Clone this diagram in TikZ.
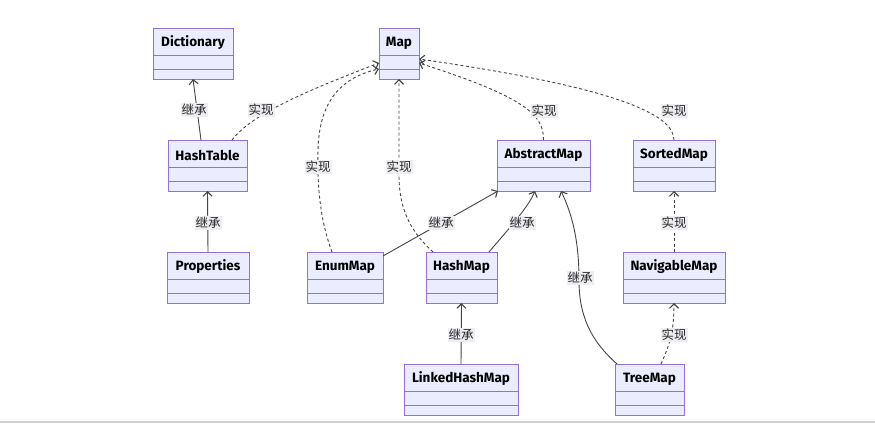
\documentclass[tikz,border=0pt]{standalone}
\usepackage{fontspec}
\setmainfont{Fira Sans}
\newfontfamily\cjk{Noto Sans CJK SC}
\usetikzlibrary{arrows.meta,calc,fit}
\definecolor{boxfill}{HTML}{ECECFF}
\definecolor{boxline}{HTML}{9370DB}
\definecolor{edgecol}{HTML}{444444}
\definecolor{lblfill}{HTML}{EEEEF2}
\tikzset{
  umlbox/.style={draw=boxline, fill=boxfill, line width=0.9pt, inner sep=0pt, outer sep=0pt},
  umltitle/.style={font=\fontsize{13.5}{15}\selectfont\bfseries, text=black, inner sep=0pt},
  edge/.style={draw=edgecol, line width=0.9pt, -{Straight Barb[length=4.5pt,width=9pt,line width=1.1pt]}},
  impl/.style={edge, dash pattern=on 3pt off 2.5pt},
  lbl/.style={font=\cjk\fontsize{12.5}{13.5}\selectfont, fill=lblfill, text=black!85, inner xsep=1pt, inner ysep=1pt},
}
\begin{document}
\begin{tikzpicture}[x=1pt,y=-1pt]
\useasboundingbox (0,0) rectangle (875,424);
\fill[gray!35] (0,421) rectangle (875,423);
% boxes
\foreach \n/\xa/\ya/\xb/\yb/\t in {
  dict/153/28/233/79/Dictionary,
  map/379/28/419/79/Map,
  ht/168/140/247/191/HashTable,
  abs/497/140/590/191/AbstractMap,
  sorted/633/140/715/191/SortedMap,
  props/167/252/249/303/Properties,
  enum/307/252/383/303/EnumMap,
  hm/426/252/497/303/HashMap,
  lhm/404/364/518/415/LinkedHashMap,
  nav/623/252/725/303/NavigableMap,
  tree/615/364/684/415/TreeMap}{
  \node[umlbox, fit={(\xa,\ya) (\xb,\yb)}] (\n) {};
  \draw[boxline, line width=0.9pt] ($(\n.north west)+(0,27)$) -- ($(\n.north east)+(0,27)$);
  \draw[boxline, line width=0.9pt] ($(\n.north west)+(0,41.5)$) -- ($(\n.north east)+(0,41.5)$);
  \node[umltitle] (\n-t) at ($(\n.north)+(0,15)$) {\t};
}
% edges
\draw[edge] ($(ht.north west)+(33,0)$) -- (dict.south);
\draw[impl] ($(ht.north west)+(64,0)$) .. controls (250,117) and (290,97) .. ($(map.north west)+(0,35)$);
\draw[impl] ($(enum.north west)+(25,0)$) .. controls (320,220) and (317,185) .. (318,150)
   .. controls (319,105) and (338,78) .. ($(map.north west)+(0,41)$);
\draw[impl] ($(hm.north west)+(7,0)$) .. controls (411,232) and (399,210) .. (399,175) -- (map.south);
\draw[impl] (abs.north) .. controls (544,115) and (525,97) .. ($(map.north east)+(0,35)$);
\draw[impl] (sorted.north) .. controls (674,115) and (620,88) .. ($(map.north east)+(0,31)$);
\draw[edge] (props.north) -- (ht.south);
\draw[edge] ($(enum.north east)+(0,4)$) -- ($(abs.south west)+(1,0)$);
\draw[edge] ($(hm.north east)+(-8,0)$) .. controls (505,233) and (528,208) .. ($(abs.south west)+(38,0)$);
\draw[edge] ($(tree.north west)+(2,0)$) .. controls (590,340) and (579,315) .. (579,280)
   .. controls (579,240) and (572,214) .. ($(abs.south west)+(64,0)$);
\draw[impl] (nav.north) -- (sorted.south);
\draw[impl] ($(tree.north west)+(46,0)$) .. controls (668,348) and (674,335) .. (nav.south);
\draw[edge] (lhm.north) -- (hm.south);
% labels
\node[lbl] (l1) at (194,110) {继承};
\node[lbl] (l2) at (261,110) {实现};
\node[lbl] (l3) at (318,167) {实现};
\node[lbl] (l4) at (399,167) {实现};
\node[lbl] (l5) at (544,111) {实现};
\node[lbl] (l6) at (674,111) {实现};
\node[lbl] (l7) at (208,223) {继承};
\node[lbl] (l8) at (441,223) {继承};
\node[lbl] (l9) at (522,223) {继承};
\node[lbl] (l10) at (580,278) {继承};
\node[lbl] (l11) at (674,223) {实现};
\node[lbl] (l12) at (674,335) {实现};
\node[lbl] (l13) at (461,335) {继承};
\end{tikzpicture}
\end{document}
